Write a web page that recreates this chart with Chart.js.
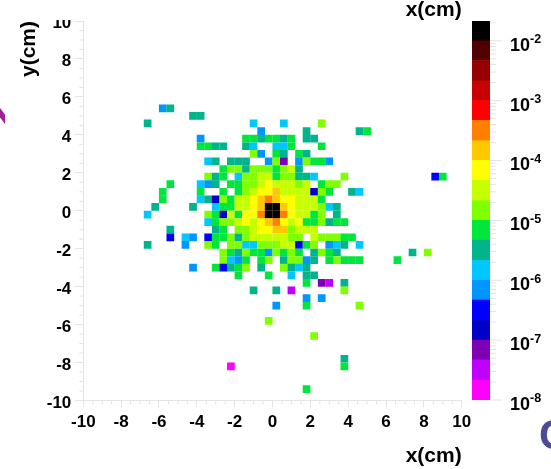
<!DOCTYPE html>
<html>
<head>
<meta charset="utf-8">
<style>
    html, body { margin: 0; padding: 0; background: #fff; overflow: hidden; }
    #page { position: relative; width: 551px; height: 469px; overflow: hidden; }
    #mapChart { position: absolute; left: 0; top: 0; }
    #barChart { position: absolute; left: 460px; top: 0; }
    /* the top of the "10" label is cut off in the original */
    #labelCut { position: absolute; left: 48px; top: 0; width: 30px; height: 20px; background: #fff; }
    /* bits of the slide behind the plot */
    #chevron { position: absolute; left: 0; top: 108px; width: 5px; height: 16px; background: #a3209a;
               clip-path: polygon(0 0, 100% 40%, 100% 100%, 0 58%); }
    #slideText { position: absolute; left: 539px; top: 411px; font: bold 42px "Liberation Sans"; color: #4b4b96; }
</style>
</head>
<body>
<div id="page">
    <canvas id="mapChart" width="551" height="469"></canvas>
    <canvas id="barChart" width="91" height="469"></canvas>
    <div id="labelCut"></div>
    <div id="chevron"></div>
    <div id="slideText">C</div>
</div>

<script src="https://cdn.jsdelivr.net/npm/chart.js@4/dist/chart.umd.min.js"></script>
<script>
    // colour levels, lowest first, one letter per level in the cell table
    var levelKeys = "MVPDBSCTGLYWORXEFHK";
    var levelColors = ["#ff00ff", "#bf00ff", "#7d00b4", "#0000c8", "#0000ff", "#0096ff", "#00c8ff",
        "#00b48c", "#00e63c", "#80ff00", "#c8ff00", "#ffff00", "#ffc800", "#ff8000", "#ff0000",
        "#c80000", "#960000", "#500000", "#000000"];
    // log10 of the colour bar edges
    var levelEdges = [-8, -7.67, -7.33, -7, -6.67, -6.33, -6, -5.67, -5.33, -5, -4.67, -4.33,
        -4, -3.67, -3.33, -3, -2.67, -2.33, -2, -1.67];
    var barExponents = [-8, -7, -6, -5, -4, -3, -2];

    var xTicks = [-10, -8, -6, -4, -2, 0, 2, 4, 6, 8, 10];
    var binSize = 0.4;

    // histogram cells: row from the top, first column from the left, levels
    var cellRuns = [
        [11, 10, "ST"],
        [12, 14, "TT"],
        [13, 8, "T"], [13, 22, "C"], [13, 26, "C"], [13, 31, "L"],
        [14, 23, "S"], [14, 29, "T"], [14, 36, "TG"],
        [15, 15, "S"], [15, 21, "GGTGGTG"], [15, 29, "TT"],
        [16, 15, "GGTT"], [16, 21, "TC"], [16, 25, "CCG"], [16, 31, "G"],
        [17, 22, "LS"], [17, 25, "GT"], [17, 28, "GT"],
        [18, 16, "CT"], [18, 19, "TTT"], [18, 24, "SLP"], [18, 28, "SLGGS"],
        [19, 18, "GLLTLLLGLYT"],
        [20, 16, "LTG"], [20, 20, "CLLYYGLLTTC"], [20, 34, "L"], [20, 46, "BG"],
        [21, 11, "G"], [21, 15, "CST"], [21, 19, "GGLLYWYYYLY"], [21, 31, "GLL"],
        [22, 10, "G"], [22, 15, "G"], [22, 18, "G"], [22, 20, "GLYWWOYYYYDLG"], [22, 35, "TC"],
        [23, 10, "G"], [23, 15, "CTDLGYYWOROWWYYYG"],
        [24, 9, "T"], [24, 14, "T"], [24, 17, "CGGYYWOKKOWYYYLCT"],
        [25, 8, "C"], [25, 16, "LGDYGWWRKKRWYYGL"], [25, 33, "T"],
        [26, 16, "CGLLYWYWORWYWGGLTGG"],
        [27, 11, "T"], [27, 17, "TG"], [27, 20, "LLYWWOOLYYY"],
        [28, 11, "B"], [28, 13, "CS"], [28, 16, "BGGLTLYYYYYLL"], [28, 30, "YLLLGG"],
        [29, 8, "T"], [29, 13, "S"], [29, 16, "LG"], [29, 19, "LLCCLLLYYBGL"], [29, 32, "SCT"], [29, 36, "C"],
        [30, 18, "LGTLGGSLGLG"], [30, 30, "TLGT"], [30, 43, "T"], [30, 45, "L"],
        [31, 18, "LCSG"], [31, 23, "GL"], [31, 26, "TLLST"], [31, 32, "GLGGG"], [31, 41, "G"],
        [32, 14, "S"], [32, 17, "GBTGL"], [32, 23, "T"], [32, 26, "LTCT"],
        [33, 20, "G"], [33, 24, "G"], [33, 27, "C"], [33, 29, "TT"],
        [34, 29, "G"], [34, 31, "PV"], [34, 34, "T"],
        [35, 22, "T"], [35, 25, "T"], [35, 27, "V"], [35, 34, "L"],
        [36, 29, "S"], [36, 31, "S"],
        [37, 25, "S"], [37, 29, "G"], [37, 36, "L"],
        [39, 24, "L"],
        [41, 30, "L"],
        [44, 34, "T"],
        [45, 19, "M"], [45, 34, "G"],
        [48, 29, "G"]
    ];

    var cellPoints = [];
    var cellColors = [];
    cellRuns.forEach(function(run){
        for (var k = 0; k < run[2].length; k++) {
            cellPoints.push({
                x: -10 + (run[1] + k + 0.5) * binSize,
                y: 10 - (run[0] + 0.5) * binSize
            });
            cellColors.push(levelColors[levelKeys.indexOf(run[2][k])]);
        }
    });

    var tickColor = "#e4e4e4";
    var labelFont = { family: "Liberation Sans", size: 17, weight: "bold" };
    var titleFont = { family: "Liberation Sans", size: 21, weight: "bold", lineHeight: 1 };

    // chart.js has one tick length per axis, so the short ticks are added here
    var minorTicks = {
        id: "minorTicks",
        afterDraw: function(chart){
            var ctx = chart.ctx;
            var area = chart.chartArea;
            ctx.save();
            ctx.strokeStyle = tickColor;
            ctx.lineWidth = 1;
            ctx.beginPath();
            for (var v = -9.5; v < 10; v += 0.5) {
                if (v % 2 === 0) continue;
                var px = chart.scales.x.getPixelForValue(v);
                var py = chart.scales.y.getPixelForValue(v);
                ctx.moveTo(px, area.bottom);
                ctx.lineTo(px, area.bottom + 4);
                ctx.moveTo(area.left, py);
                ctx.lineTo(area.left - 4, py);
            }
            ctx.stroke();
            ctx.restore();
        }
    };

    new Chart(document.getElementById("mapChart"), {
        type: "scatter",
        data: {
            datasets: [{
                data: cellPoints,
                pointStyle: "rect",
                pointRadius: 5.45,
                pointHoverRadius: 5.45,
                pointBorderWidth: 0,
                backgroundColor: cellColors
            }]
        },
        options: {
            responsive: false,
            animation: false,
            layout: { padding: { right: 89.3 } },
            plugins: {
                legend: { display: false },
                tooltip: { enabled: false },
                title: {
                    display: true,
                    text: "x(cm)",
                    align: "end",
                    fullSize: false,
                    color: "#000",
                    font: titleFont,
                    padding: 0
                }
            },
            scales: {
                x: {
                    type: "linear",
                    min: -10,
                    max: 10,
                    afterBuildTicks: function(scale){
                        scale.ticks = xTicks.map(function(v){ return { value: v }; });
                    },
                    afterFit: function(scale){ scale.height = 68.5; },
                    grid: { drawOnChartArea: false, tickColor: tickColor, tickLength: 7 },
                    border: { color: tickColor },
                    ticks: { color: "#000", font: labelFont, padding: 5, maxRotation: 0, autoSkip: false },
                    title: {
                        display: true,
                        text: "x(cm)",
                        align: "end",
                        color: "#000",
                        font: titleFont,
                        padding: { bottom: 2 }
                    }
                },
                y: {
                    type: "linear",
                    min: -10,
                    max: 10,
                    afterBuildTicks: function(scale){
                        scale.ticks = xTicks.map(function(v){ return { value: v }; });
                    },
                    afterFit: function(scale){ scale.width = 83.3; },
                    grid: { drawOnChartArea: false, tickColor: tickColor, tickLength: 8 },
                    border: { color: tickColor },
                    ticks: { color: "#000", font: labelFont, padding: 4, labelOffset: 2.7, autoSkip: false },
                    title: {
                        display: true,
                        text: "y(cm)",
                        align: "end",
                        color: "#000",
                        font: titleFont,
                        padding: { top: 18.5 }
                    }
                }
            }
        },
        plugins: [minorTicks]
    });

    // colour bar ticks and the 10^n labels with raised exponents
    var barAxis = {
        id: "barAxis",
        afterDraw: function(chart){
            var ctx = chart.ctx;
            var scale = chart.scales.y;
            var right = chart.chartArea.right;
            ctx.save();
            ctx.strokeStyle = tickColor;
            ctx.lineWidth = 1;
            ctx.beginPath();
            for (var n = -8; n <= -2; n++) {
                for (var m = 1; m <= 9; m++) {
                    var value = m * Math.pow(10, n);
                    if (value > scale.max) continue;
                    var py = scale.getPixelForValue(value);
                    ctx.moveTo(right, py);
                    ctx.lineTo(right + (m === 1 ? 12 : 6), py);
                }
            }
            ctx.stroke();
            ctx.fillStyle = "#000";
            ctx.textBaseline = "middle";
            barExponents.forEach(function(exp){
                var y = scale.getPixelForValue(Math.pow(10, exp));
                ctx.font = "bold 18px 'Liberation Sans'";
                ctx.fillText("10", 50, y + 5);
                ctx.font = "bold 12.5px 'Liberation Sans'";
                ctx.fillText(String(exp), 70, y - 1);
            });
            ctx.restore();
        }
    };

    var barSets = levelColors.map(function(color, i){
        return {
            data: [[Math.pow(10, levelEdges[i]), Math.pow(10, levelEdges[i + 1])]],
            backgroundColor: color,
            borderWidth: 0,
            grouped: false,
            barPercentage: 1,
            categoryPercentage: 1
        };
    });

    new Chart(document.getElementById("barChart"), {
        type: "bar",
        data: { labels: [""], datasets: barSets },
        options: {
            responsive: false,
            animation: false,
            layout: { padding: { left: 12, right: 61, top: 21, bottom: 69 } },
            plugins: { legend: { display: false }, tooltip: { enabled: false } },
            scales: {
                x: { display: false },
                y: {
                    display: false,
                    type: "logarithmic",
                    min: Math.pow(10, levelEdges[0]),
                    max: Math.pow(10, levelEdges[levelEdges.length - 1])
                }
            }
        },
        plugins: [barAxis]
    });
</script>
</body>
</html>
